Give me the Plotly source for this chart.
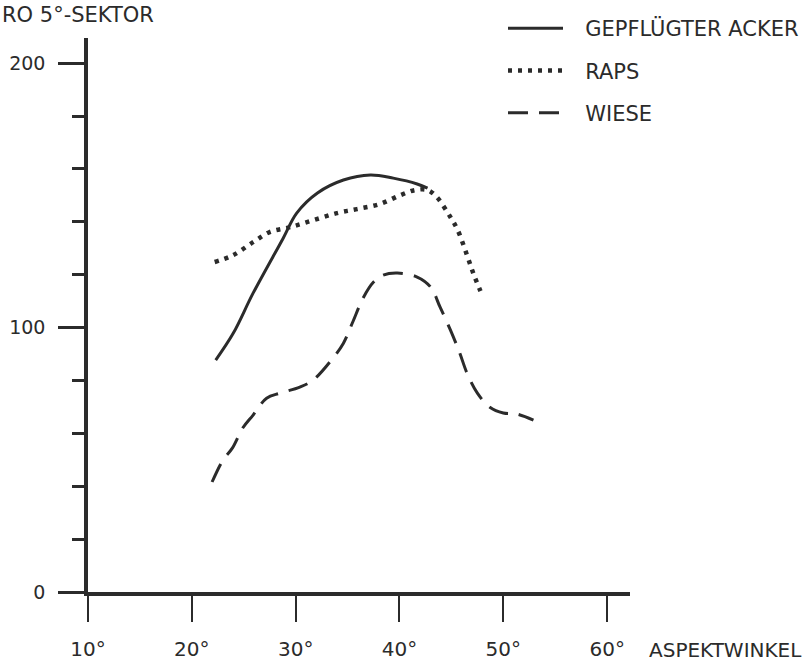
import plotly.graph_objects as go

# ---- data ----
acker_x = [22.3, 24.0, 25.9, 28.8, 30.1, 32.1, 34.6, 37.2, 39.4, 41.7, 42.7]
acker_y = [87.7, 97.9, 113.0, 133.8, 143.3, 150.9, 155.8, 157.7, 156.5, 154.3, 152.7]

raps_x = [22.2, 24.0, 25.9, 27.5, 29.5, 31.7, 34.0, 35.9, 38.1, 40.1, 41.5, 42.7,
          43.6, 44.9, 45.6, 46.5, 47.1, 47.8]
raps_y = [124.8, 127.4, 132.3, 136.1, 138.0, 140.6, 143.3, 144.8, 146.7, 150.1, 152.0, 152.0,
          149.3, 141.8, 136.9, 127.4, 120.6, 113.8]

wiese_x = [21.95, 23.0, 23.9, 24.9, 25.9, 27.2, 28.5, 30.4, 31.7, 33.6, 34.6, 35.5, 36.5,
           37.5, 38.4, 39.8, 41.7, 43.0, 43.9, 44.9, 45.8, 46.5, 47.5, 48.7, 50.0, 51.3, 52.9]
wiese_y = [41.6, 49.9, 54.4, 62.0, 66.9, 73.3, 75.2, 77.5, 80.2, 88.5, 94.1, 102.1, 111.2,
           117.2, 119.8, 120.6, 119.1, 115.3, 107.8, 99.1, 90.4, 82.8, 75.2, 69.9, 67.7, 67.3, 65.0]

x_ticks = [10, 20, 30, 40, 50, 60]
x_tick_labels = ["10°", "20°", "30°", "40°", "50°", "60°"]
y_ticks = [0, 100, 200]
y_tick_labels = ["0", "100", "200"]

names = ["GEPFLÜGTER ACKER", "RAPS", "WIESE"]

INK = "#2b2b2b"
FONT = "DejaVu Sans"
GAP = "\u2002\u00a0"  # extra space between legend sample and label

fig = go.Figure()
fig.add_trace(go.Scatter(x=acker_x, y=acker_y, mode="lines", name=GAP + names[0], legendgroup="a",
                         line=dict(color=INK, width=3, shape="spline")))
fig.add_trace(go.Scatter(x=raps_x, y=raps_y, mode="lines", name=GAP + names[1], legendgroup="b",
                         line=dict(color=INK, width=4.5, shape="spline", dash="4px,6px")))
fig.add_trace(go.Scatter(x=wiese_x, y=wiese_y, mode="lines", name=GAP + names[2], legendgroup="c",
                         line=dict(color=INK, width=3, shape="spline", dash="20px,11px")))

fig.update_layout(
    width=806, height=668,
    margin=dict(l=88, r=176, t=38, b=76, autoexpand=False),
    paper_bgcolor="white", plot_bgcolor="white",
    font=dict(family=FONT, color=INK),
    showlegend=True,
    legend=dict(x=(503 - 88) / 542, y=1 + 38 / 554 - 8 / 554, xanchor="left", yanchor="top",
                font=dict(size=21, color=INK), tracegroupgap=12,
                bgcolor="rgba(0,0,0,0)", itemwidth=55),
    xaxis=dict(range=[10, 62.2], showgrid=False, zeroline=False, automargin=False,
               showline=True, linecolor=INK, linewidth=3.5,
               tickmode="array", tickvals=x_ticks, ticktext=x_tick_labels,
               ticks="outside", ticklen=26, tickwidth=2, tickcolor=INK,
               tickfont=dict(size=20, color=INK), ticklabelstandoff=10),
    yaxis=dict(range=[0, 209.5], showgrid=False, zeroline=False, automargin=False,
               showline=True, linecolor=INK, linewidth=3.5,
               tickmode="array", tickvals=y_ticks, ticktext=y_tick_labels,
               ticks="outside", ticklen=26, tickwidth=2.5, tickcolor=INK,
               tickfont=dict(size=19, color=INK), ticklabelstandoff=9,
               minor=dict(dtick=20, ticks="outside", ticklen=12, tickwidth=2.5,
                          tickcolor=INK, showgrid=False)),
)

fig.add_annotation(text="ASPEKTWINKEL", xref="paper", yref="paper",
                   x=(647 - 88) / 542, y=-(650 - 592) / 554, xanchor="left", yanchor="middle",
                   showarrow=False, font=dict(size=20, color=INK))
fig.add_annotation(text="RO 5°-SEKTOR", xref="paper", yref="paper",
                   x=-88 / 542, y=1 + 38 / 554 - 1 / 554, xanchor="left", yanchor="top",
                   showarrow=False, font=dict(size=21, color=INK))

fig.write_html("out.html", config={"displayModeBar": False},
               post_script="document.body.style.margin='0';document.body.style.padding='0';")
